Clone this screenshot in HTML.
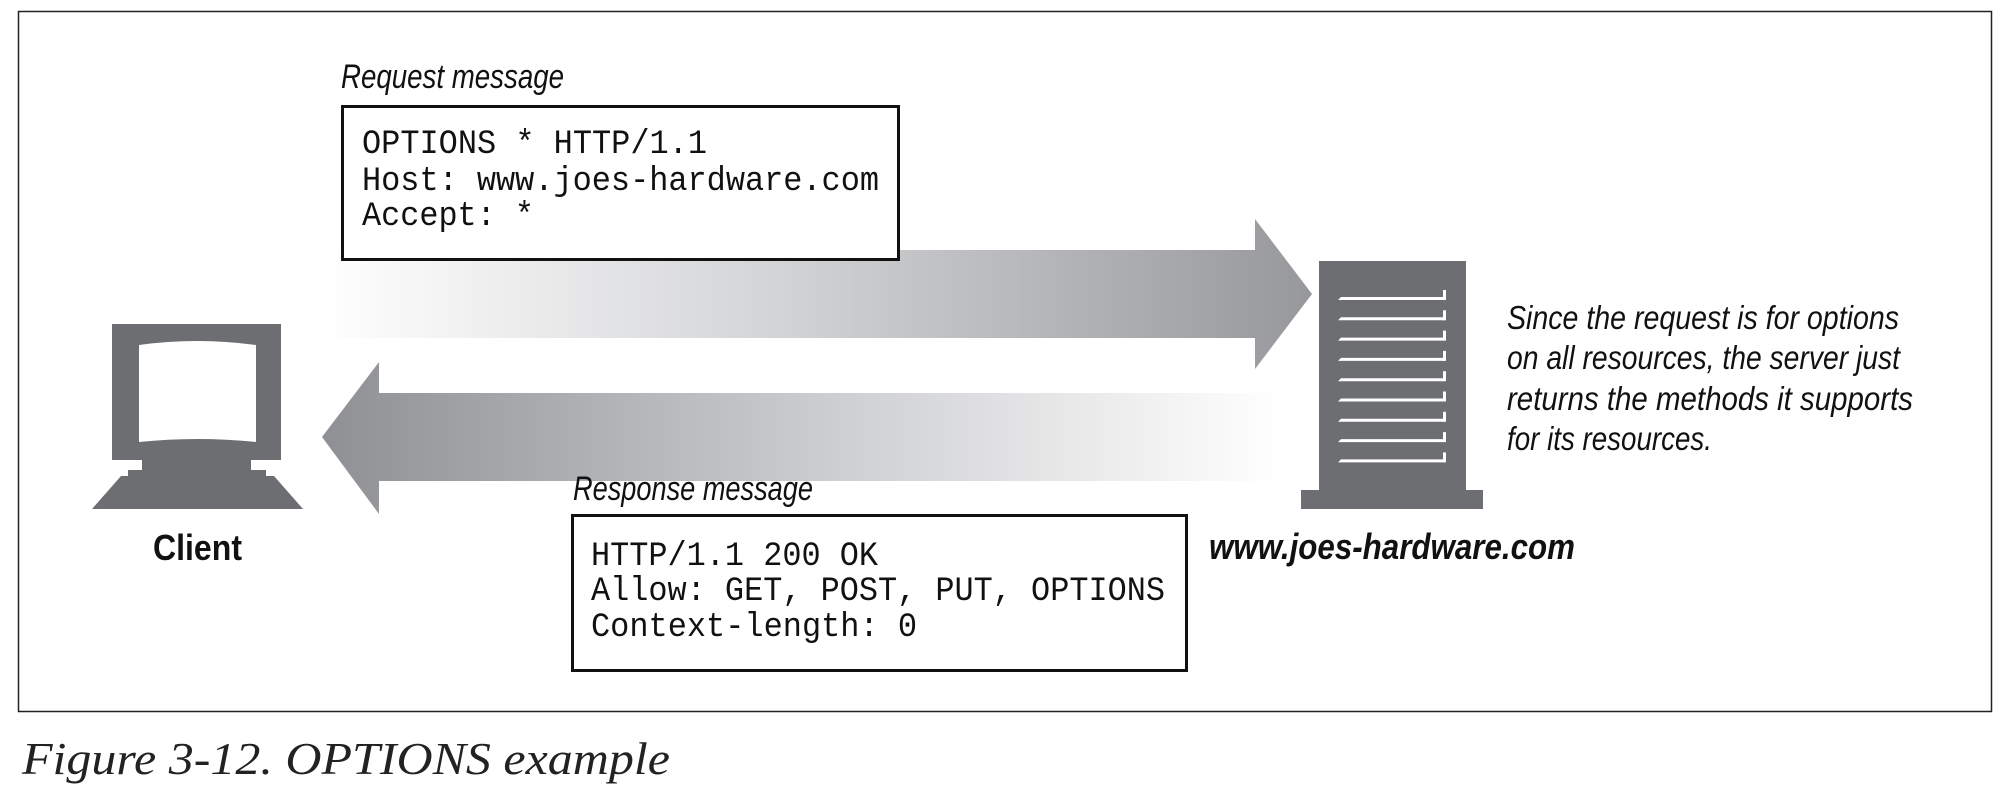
<!DOCTYPE html>
<html><head><style>html,body{margin:0;padding:0;background:#fff}svg{display:block}</style></head>
<body>
<svg width="2002" height="788" viewBox="0 0 2002 788" xmlns="http://www.w3.org/2000/svg">
<defs>
<linearGradient id="g1" x1="319" y1="0" x2="1312" y2="0" gradientUnits="userSpaceOnUse">
<stop offset="0" stop-color="#ffffff"/><stop offset="0.45" stop-color="#d4d5d7"/><stop offset="1" stop-color="#97989b"/></linearGradient>
<linearGradient id="g2" x1="322" y1="0" x2="1281" y2="0" gradientUnits="userSpaceOnUse">
<stop offset="0" stop-color="#8e9094"/><stop offset="0.55" stop-color="#cfd0d2"/><stop offset="1" stop-color="#ffffff"/></linearGradient>
</defs>
<rect x="18.5" y="11.5" width="1973" height="700" fill="#fff" stroke="#222" stroke-width="1.5"/>
<polygon points="319,250 1255,250 1255,219 1312,294 1255,369 1255,338 319,338" fill="url(#g1)"/>
<polygon points="1281,393 379,393 379,362 322,437 379,514 379,481 1281,481" fill="url(#g2)"/>
<text x="341" y="88" font-family="Liberation Sans" font-style="italic" font-size="34" textLength="223" lengthAdjust="spacingAndGlyphs" fill="#111">Request message</text>
<rect x="342.5" y="106.5" width="556" height="153" fill="#fff" stroke="#111" stroke-width="3"/>
<g font-family="Liberation Mono" font-size="34" fill="#111" lengthAdjust="spacingAndGlyphs">
<text x="362" y="153" textLength="345" lengthAdjust="spacingAndGlyphs">OPTIONS * HTTP/1.1</text>
<text x="362" y="190" textLength="517" lengthAdjust="spacingAndGlyphs">Host: www.joes-hardware.com</text>
<text x="362" y="225" textLength="172" lengthAdjust="spacingAndGlyphs">Accept: *</text>
</g>
<text x="573" y="500" font-family="Liberation Sans" font-style="italic" font-size="34" textLength="240" lengthAdjust="spacingAndGlyphs" fill="#111">Response message</text>
<rect x="572.5" y="515.5" width="614" height="155" fill="#fff" stroke="#111" stroke-width="3"/>
<g font-family="Liberation Mono" font-size="34" fill="#111">
<text x="591" y="565" textLength="287" lengthAdjust="spacingAndGlyphs">HTTP/1.1 200 OK</text>
<text x="591" y="600" textLength="574" lengthAdjust="spacingAndGlyphs">Allow: GET, POST, PUT, OPTIONS</text>
<text x="591" y="636" textLength="326" lengthAdjust="spacingAndGlyphs">Context-length: 0</text>
</g>
<g fill="#6d6e71">
<rect x="112" y="324" width="169" height="136"/>
<rect x="142" y="459" width="109" height="12"/>
<rect x="128" y="470" width="138" height="7"/>
<polygon points="121,476 274,476 303,509 92,509"/>
</g>
<path d="M139,345 Q197,337 256,345 L256,442 Q197,436 139,442 Z" fill="#fff"/>
<text x="153" y="560" font-family="Liberation Sans" font-weight="bold" font-size="36" textLength="89" lengthAdjust="spacingAndGlyphs" fill="#111">Client</text>
<g fill="#6d6e71">
<rect x="1319" y="261" width="147" height="229"/>
<rect x="1301" y="490" width="182" height="19"/>
</g>
<g fill="#fff">
<g id="sl"><polygon points="1341,297 1444,297 1444,300 1338,300"/><rect x="1443" y="290" width="3" height="10"/></g>
<use href="#sl" y="20.3"/><use href="#sl" y="40.6"/><use href="#sl" y="60.9"/><use href="#sl" y="81.2"/>
<use href="#sl" y="101.5"/><use href="#sl" y="121.8"/><use href="#sl" y="142.1"/><use href="#sl" y="162.4"/>
</g>
<text x="1209" y="559" font-family="Liberation Sans" font-weight="bold" font-style="italic" font-size="36" textLength="366" lengthAdjust="spacingAndGlyphs" fill="#111">www.joes-hardware.com</text>
<g font-family="Liberation Sans" font-style="italic" font-size="33" fill="#111">
<text x="1507" y="329" textLength="392" lengthAdjust="spacingAndGlyphs">Since the request is for options</text>
<text x="1507" y="369" textLength="393" lengthAdjust="spacingAndGlyphs">on all resources, the server just</text>
<text x="1507" y="410" textLength="406" lengthAdjust="spacingAndGlyphs">returns the methods it supports</text>
<text x="1507" y="450" textLength="205" lengthAdjust="spacingAndGlyphs">for its resources.</text>
</g>
<text x="22" y="774" font-family="Liberation Serif" font-style="italic" font-size="46" textLength="648" lengthAdjust="spacingAndGlyphs" fill="#222">Figure 3-12. OPTIONS example</text>
</svg>
</body></html>
